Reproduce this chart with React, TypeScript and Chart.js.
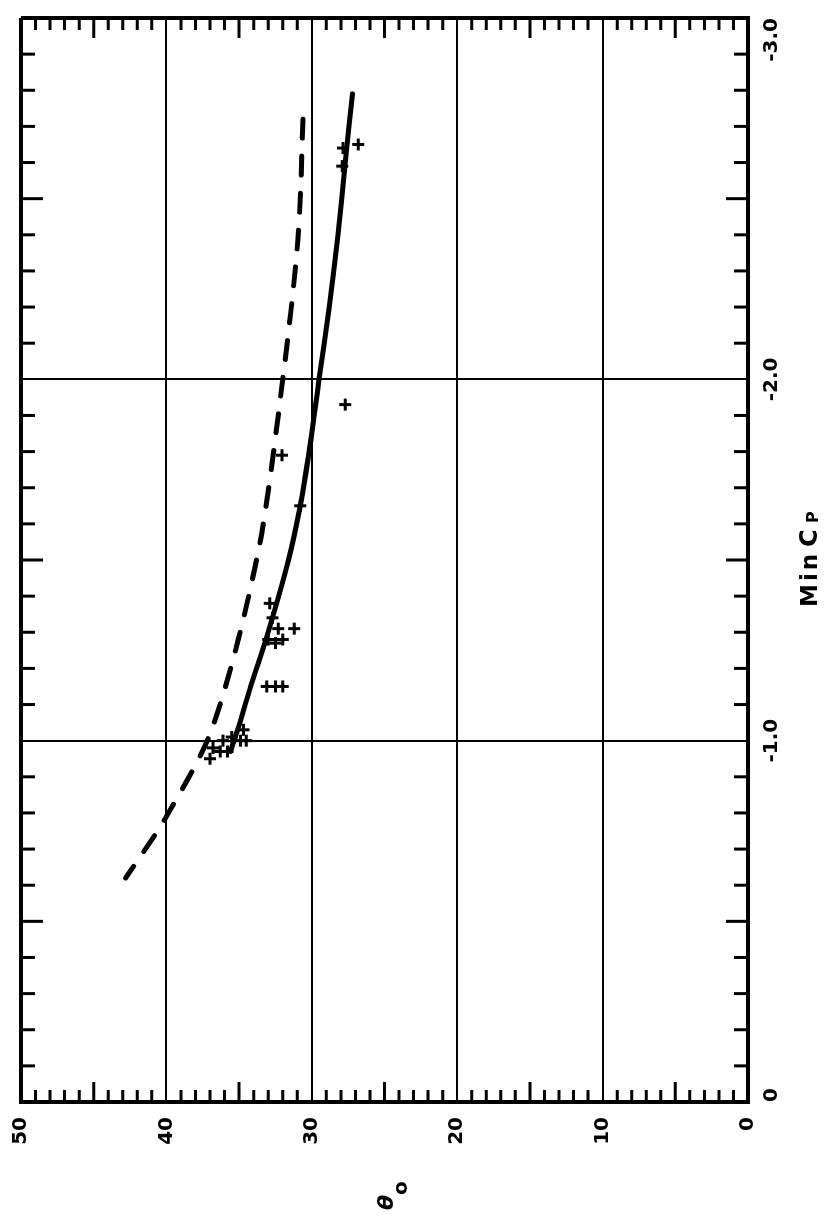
import React, { useEffect, useRef } from "react";
import { Chart, registerables } from "chart.js";

Chart.register(...registerables);

// Axis ticks (Min Cp runs along the original x axis, θo along the original y axis)
const CP_TICKS = [-3, -2, -1, 0];
const THETA_TICKS = [0, 10, 20, 30, 40, 50];

// Measured data points (Min Cp, θo)
const pointCp = [-2.64, -2.65, -2.59, -1.93, -1.79, -1.65, -1.38, -1.34, -1.31, -1.28, -1.27, -1.31, -1.28, -1.15, -1.15, -1.15, -0.98, -1.0, -1.01, -1.0, -1.0, -0.97, -0.95, -1.03, -0.97];
const pointTheta = [27.85, 26.8, 27.9, 27.7, 32.05, 30.8, 32.9, 32.7, 32.3, 33.0, 32.5, 31.2, 32.0, 33.1, 32.5, 32.0, 36.8, 36.1, 35.5, 34.9, 34.5, 36.3, 37.0, 34.7, 35.8];

// Solid curve (faired through data)
const solidCp = [-2.79, -2.6, -2.4, -2.2, -2.0, -1.85, -1.65, -1.5, -1.3, -1.15, -1.03, -0.97];
const solidTheta = [27.2, 27.7, 28.2, 28.8, 29.5, 30.0, 30.8, 31.6, 33.0, 34.2, 35.1, 35.6];

// Dashed curve
const dashCp = [-2.72, -2.39, -2.0, -1.52, -1.04, -0.79, -0.62];
const dashTheta = [30.6, 30.95, 32.0, 33.7, 36.8, 40.0, 42.8];

const FONT = "'DejaVu Sans', sans-serif";

export default function App() {
  const ref = useRef<HTMLCanvasElement>(null);

  useEffect(() => {
    const canvas = ref.current as HTMLCanvasElement;

    const minorTicks = {
      id: "minorTicks",
      afterDraw(chart: any) {
        const { ctx, chartArea: a, scales } = chart;
        const xs = scales.x;
        const ys = scales.y;
        ctx.save();
        ctx.strokeStyle = "#000";
        ctx.lineWidth = 3;
        ctx.beginPath();
        for (let k = 1; k < 30; k++) {
          if (k % 10 === 0) continue;
          const px = xs.getPixelForValue(-k / 10);
          const len = k % 5 === 0 ? 22 : 14;
          ctx.moveTo(px, a.top);
          ctx.lineTo(px, a.top + len);
          ctx.moveTo(px, a.bottom);
          ctx.lineTo(px, a.bottom - len);
        }
        for (let t = 1; t < 50; t++) {
          if (t % 10 === 0) continue;
          const py = ys.getPixelForValue(t);
          const len = t % 5 === 0 ? 20 : 12;
          ctx.moveTo(a.left, py);
          ctx.lineTo(a.left + len, py);
          ctx.moveTo(a.right, py);
          ctx.lineTo(a.right - len, py);
        }
        ctx.stroke();
        ctx.restore();
      },
    };

    const titles = {
      id: "titles",
      afterDraw(chart: any) {
        const { ctx, chartArea: a } = chart;
        ctx.save();
        ctx.fillStyle = "#000";
        ctx.textAlign = "left";
        ctx.textBaseline = "alphabetic";
        const cy = (a.top + a.bottom) / 2;
        ctx.font = `italic bold 22px ${FONT}`;
        ctx.fillText("θ", 7, cy + 8);
        ctx.font = `bold 20px ${FONT}`;
        ctx.fillText("o", 22, cy + 22);
        const cx = (a.left + a.right) / 2;
        ctx.font = `bold 23px ${FONT}`;
        (ctx as any).letterSpacing = "3px";
        ctx.fillText("Min", cx - 47, 817);
        (ctx as any).letterSpacing = "0px";
        ctx.font = `bold 24px ${FONT}`;
        ctx.fillText("C", cx + 13, 817);
        ctx.font = `bold 16px ${FONT}`;
        ctx.fillText("P", cx + 37, 818);
        ctx.restore();
      },
    };

    const chart = new Chart(canvas, {
      type: "scatter",
      data: {
        datasets: [
          {
            label: "solid",
            data: solidCp.map((c, i) => ({ x: c, y: solidTheta[i] })),
            showLine: true,
            borderColor: "#000",
            borderWidth: 5,
            borderCapStyle: "round",
            pointRadius: 0,
            tension: 0.3,
            fill: false,
          },
          {
            label: "dashed",
            data: dashCp.map((c, i) => ({ x: c, y: dashTheta[i] })),
            showLine: true,
            borderColor: "#000",
            borderWidth: 5,
            borderCapStyle: "round",
            borderDash: [19, 18],
            pointRadius: 0,
            tension: 0.3,
            fill: false,
          },
          {
            label: "data",
            data: pointCp.map((c, i) => ({ x: c, y: pointTheta[i] })),
            showLine: false,
            pointStyle: "cross",
            pointRadius: 6,
            pointBorderWidth: 3,
            borderColor: "#000",
            backgroundColor: "#000",
          },
        ],
      },
      options: {
        responsive: false,
        maintainAspectRatio: false,
        devicePixelRatio: 1,
        animation: false,
        events: [],
        layout: { padding: { top: 21, right: 18, bottom: 0, left: 0 } },
        plugins: {
          legend: { display: false },
          tooltip: { enabled: false },
        },
        scales: {
          x: {
            type: "linear",
            position: "bottom",
            min: -3,
            max: 0,
            reverse: true,
            afterBuildTicks(s: any) {
              s.ticks = CP_TICKS.map((v) => ({ value: v }));
            },
            afterFit(s: any) {
              s.height = 84;
              s.paddingLeft = 0;
              s.paddingRight = 0;
            },
            ticks: {
              align: "inner",
              padding: 12,
              maxRotation: 0,
              color: "#000",
              font: { family: FONT, size: 20, weight: "bold" },
              callback: (v: any) => (Number(v) === 0 ? "0" : Number(v).toFixed(1)),
            },
            grid: {
              color: "#000",
              drawTicks: false,
              lineWidth: (c: any) => (c.tick && (c.tick.value === -3 || c.tick.value === 0) ? 4 : 2),
            },
            border: { display: true, color: "#000", width: 4 },
          },
          y: {
            type: "linear",
            position: "left",
            min: 0,
            max: 50,
            afterBuildTicks(s: any) {
              s.ticks = THETA_TICKS.map((v) => ({ value: v }));
            },
            afterFit(s: any) {
              s.width = 115;
              s.paddingTop = 0;
              s.paddingBottom = 0;
            },
            ticks: {
              padding: 15,
              color: "#000",
              font: { family: FONT, size: 20, weight: "bold" },
              callback: (v: any) => String(v),
            },
            grid: {
              color: "#000",
              drawTicks: false,
              lineWidth: (c: any) => (c.tick && (c.tick.value === 0 || c.tick.value === 50) ? 4 : 2),
            },
            border: { display: true, color: "#000", width: 4 },
          },
        },
      },
      plugins: [minorTicks, titles],
    } as any);

    return () => chart.destroy();
  }, []);

  return (
    <div
      style={{
        position: "absolute",
        left: 0,
        top: 0,
        width: 832,
        height: 1217,
        overflow: "hidden",
        background: "#fff",
      }}
    >
      <div
        style={{
          position: "absolute",
          left: 0,
          top: 0,
          width: 1217,
          height: 832,
          transformOrigin: "0 0",
          transform: "translate(0px, 1217px) rotate(-90deg)",
        }}
      >
        <canvas ref={ref} width={1217} height={832} style={{ display: "block", width: 1217, height: 832 }} />
      </div>
    </div>
  );
}
